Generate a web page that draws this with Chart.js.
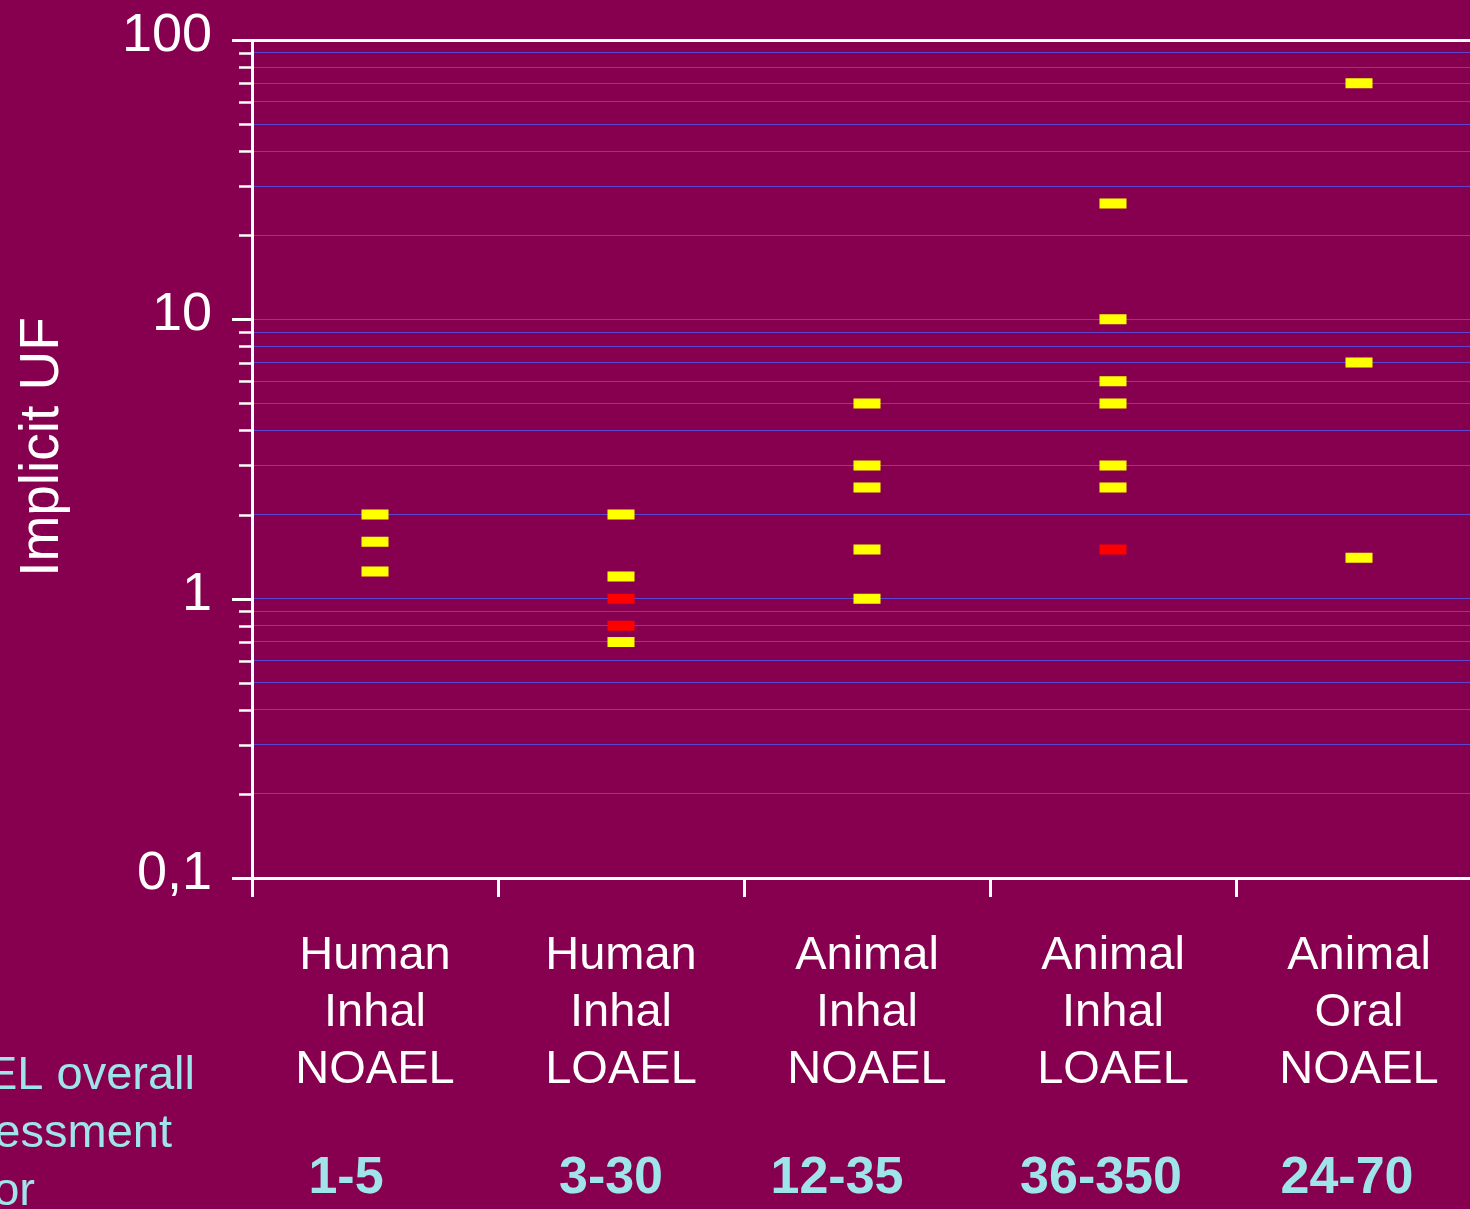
<!DOCTYPE html>
<html>
<head>
<meta charset="utf-8">
<script src="https://cdn.jsdelivr.net/npm/chart.js@4.4.1/dist/chart.umd.min.js"></script>
<style>
  html, body { margin: 0; padding: 0; background: #87004f; overflow: hidden; }
  #ufChart { display: block; width: 1482px; height: 1209px; }
</style>
</head>
<body>
<canvas id="ufChart" width="1482" height="1209"></canvas>
<script>
// data
const categories = ['Human Inhal NOAEL', 'Human Inhal LOAEL', 'Animal Inhal NOAEL', 'Animal Inhal LOAEL', 'Animal Oral NOAEL'];
const yellowUF = [[2, 1.6, 1.25], [2, 1.2, 0.7], [5, 3, 2.5, 1.5, 1], [26, 10, 6, 5, 3, 2.5], [70, 7, 1.4]];
const redUF = [[], [1, 0.8], [], [1.5], []];
const overallFactors = ['1-5', '3-30', '12-35', '36-350', '24-70'];
const factorCaption = ['NOAEL overall', 'assessment', 'factor'];
const yMajorLabels = { '0.1': '0,1', '1': '1', '10': '10', '100': '100' };

const decades = [0.1, 1, 10];
const yTicks = [];
decades.forEach(d => { for (let m = 1; m <= 9; m++) yTicks.push(+(d * m).toPrecision(3)); });
yTicks.push(100);

const isMajor = v => Math.abs(Math.log10(v) - Math.round(Math.log10(v))) < 1e-9;
const toPoints = groups => groups.flatMap((vals, i) => vals.map(v => ({ x: categories[i], y: v })));

const WHITE = '#ffffff';
const CYAN = '#9ee4e8';
const GRID = '#5a46d2';
const FONT = "'Liberation Sans', Arial, sans-serif";

// manual nudges for the factor numbers under each category
const factorShift = [-29, -10, -30, -12, -12];

const decorations = {
    id: 'decorations',
    afterDraw(chart) {
        const { ctx, chartArea: area, scales: { x, y } } = chart;
        ctx.save();
        ctx.strokeStyle = WHITE;
        ctx.fillStyle = WHITE;
        ctx.font = '54px ' + FONT;
        ctx.textAlign = 'right';
        ctx.textBaseline = 'alphabetic';
        yTicks.forEach(v => {
            const py = Math.round(y.getPixelForValue(v)) + 0.5;
            const major = isMajor(v);
            ctx.lineWidth = major ? 3 : 2.5;
            ctx.beginPath();
            ctx.moveTo(area.left - (major ? 20 : 13), py);
            ctx.lineTo(area.left, py);
            ctx.stroke();
            if (major) ctx.fillText(yMajorLabels[String(v)], area.left - 40, py + 10);
        });

        // axis title
        ctx.save();
        ctx.translate(58, (area.top + area.bottom) / 2 - 12);
        ctx.rotate(-Math.PI / 2);
        ctx.textAlign = 'center';
        ctx.font = '55px ' + FONT;
        ctx.fillText('Implicit UF', 0, 0);
        ctx.restore();

        // overall assessment factors
        ctx.fillStyle = CYAN;
        ctx.font = 'bold 52px ' + FONT;
        ctx.textAlign = 'center';
        overallFactors.forEach((t, i) => {
            ctx.fillText(t, x.getPixelForValue(i) + factorShift[i], 1193);
        });

        ctx.font = '47px ' + FONT;
        ctx.textAlign = 'right';
        const ends = [195, 172, 35];
        factorCaption.forEach((t, i) => ctx.fillText(t, ends[i], 1089 + i * 58));
        ctx.restore();
    }
};

const markerStyle = color => ({
    showLine: false,
    pointStyle: 'line',
    pointRadius: 13.5,
    pointHoverRadius: 13.5,
    pointBorderWidth: 10,
    pointBorderColor: color,
    pointBackgroundColor: color
});

new Chart(document.getElementById('ufChart'), {
    type: 'line',
    data: {
        labels: categories,
        datasets: [
            { data: toPoints(yellowUF), ...markerStyle('#ffff00') },
            { data: toPoints(redUF), ...markerStyle('#ff0000') }
        ]
    },
    plugins: [decorations],
    options: {
        responsive: false,
        animation: false,
        events: [],
        layout: { autoPadding: false, padding: { top: 40, left: 0, right: 0, bottom: 0 } },
        plugins: { legend: { display: false }, tooltip: { enabled: false } },
        scales: {
            x: {
                type: 'category',
                offset: true,
                grid: { offset: true, drawOnChartArea: false, drawTicks: true, tickLength: 19, tickColor: WHITE, tickWidth: 3 },
                border: { display: true, color: WHITE, width: 3 },
                ticks: {
                    color: WHITE,
                    font: { family: FONT, size: 47, lineHeight: 1.22 },
                    padding: 30,
                    maxRotation: 0,
                    autoSkip: false,
                    callback: (v, i) => categories[i].split(' ')
                },
                afterFit: s => { s.height = 331; }
            },
            y: {
                type: 'logarithmic',
                min: 0.1,
                max: 100,
                afterBuildTicks: s => { s.ticks = yTicks.map(v => ({ value: v })); },
                ticks: { display: false },
                grid: {
                    drawTicks: false,
                    color: c => c.tick.value === 100 ? WHITE : (c.tick.value === 0.1 ? 'rgba(0,0,0,0)' : GRID),
                    lineWidth: c => c.tick.value === 100 ? 3 : 1
                },
                border: { display: true, color: WHITE, width: 3 },
                afterFit: s => { s.width = 252; }
            }
        }
    }
});
</script>
</body>
</html>
